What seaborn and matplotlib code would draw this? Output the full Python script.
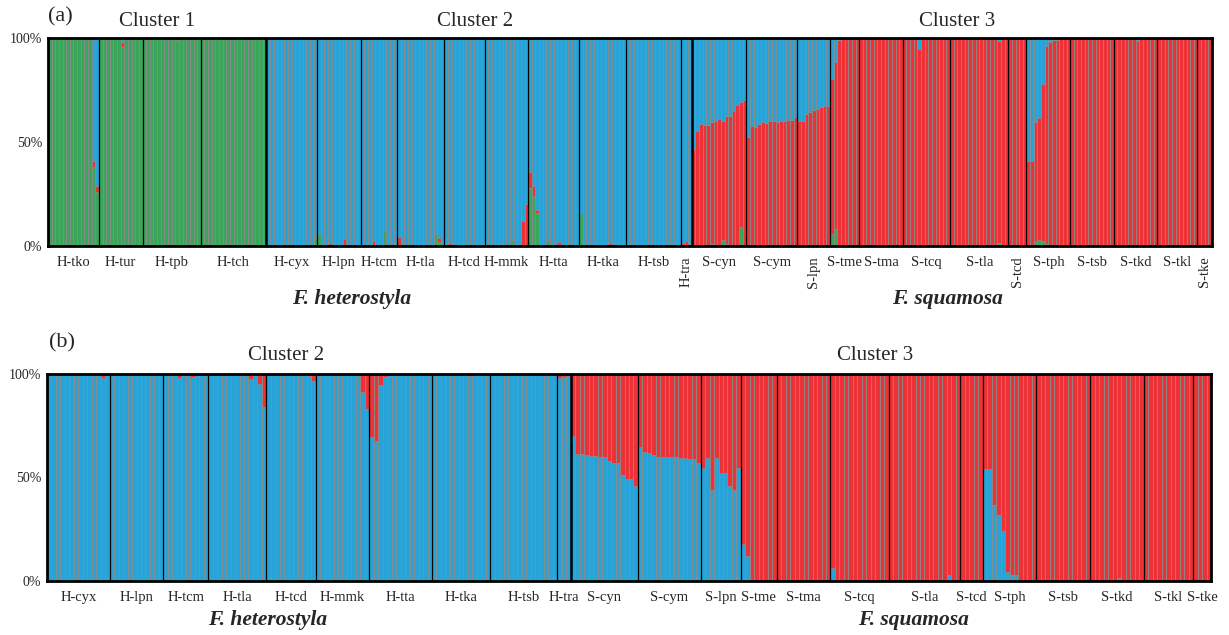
import numpy as np
import pandas as pd
import seaborn as sns
import matplotlib.pyplot as plt

pops_a = ['H-tko', 'H-tur', 'H-tpb', 'H-tch', 'H-cyx', 'H-lpn', 'H-tcm', 'H-tla', 'H-tcd',
          'H-mmk', 'H-tta', 'H-tka', 'H-tsb', 'H-tra', 'S-cyn', 'S-cym', 'S-lpn', 'S-tme',
          'S-tma', 'S-tcq', 'S-tla', 'S-tcd', 'S-tph', 'S-tsb', 'S-tkd', 'S-tkl', 'S-tke']
pops_b = pops_a[4:]
rotated_a = ['H-tra', 'S-lpn', 'S-tcd', 'S-tke']

# (a) K=3: share of the green cluster, one value per individual, by population
green_a = [
    [1, 1, 1, 1, 1, 0.995, 1, 1, 1, 1, 1, 1, 0.38, 0.26],                     # H-tko
    [1, 1, 1, 1, 1, 1, 0.955, 1, 0.995, 0.995, 0.995, 0.995],                  # H-tur
    [1, 0.995, 1, 0.995, 1, 1, 0.995, 0.995, 1, 0.99, 1, 0.995, 0.995, 1, 1, 1],  # H-tpb
    [1, 1, 1, 1, 1, 1, 1, 1, 1, 1, 1, 1, 1, 1, 1, 1, 1, 0.99],                 # H-tch
    [0, 0, 0, 0, 0, 0, 0, 0, 0, 0, 0, 0, 0, 0.04],                             # H-cyx
    [0.06, 0, 0, 0, 0, 0, 0.005, 0.005, 0, 0.005, 0, 0],                       # H-lpn
    [0, 0, 0, 0, 0, 0, 0.07, 0, 0, 0],                                         # H-tcm
    [0, 0, 0, 0, 0, 0, 0, 0, 0, 0, 0.06, 0.02, 0.015],                         # H-tla
    [0, 0.005, 0.005, 0, 0, 0, 0, 0.005, 0, 0.005, 0],                         # H-tcd
    [0, 0, 0, 0, 0, 0, 0, 0.03, 0, 0, 0, 0],                                   # H-mmk
    [0.28, 0.24, 0.16, 0, 0, 0.03, 0, 0, 0, 0, 0, 0, 0, 0],                    # H-tta
    [0.16, 0, 0, 0, 0, 0, 0, 0, 0, 0, 0, 0, 0],                                # H-tka
    [0, 0, 0, 0, 0, 0, 0, 0, 0, 0, 0, 0, 0, 0, 0],                             # H-tsb
    [0.005, 0.005, 0],                                                         # H-tra
    [0.005, 0, 0, 0, 0, 0.01, 0, 0, 0.03, 0.01, 0, 0, 0, 0.09, 0],            # S-cyn
    [0.005, 0, 0, 0, 0.005, 0, 0, 0, 0, 0, 0, 0, 0, 0],                        # S-cym
    [0, 0, 0, 0, 0, 0, 0, 0, 0],                                               # S-lpn
    [0.06, 0.08, 0.005, 0, 0, 0, 0, 0],                                        # S-tme
    [0, 0, 0, 0, 0, 0, 0, 0, 0, 0, 0, 0],                                      # S-tma
    [0.005, 0, 0, 0, 0, 0, 0, 0, 0, 0, 0, 0, 0],                               # S-tcq
    [0, 0, 0, 0, 0, 0, 0, 0, 0, 0, 0, 0, 0, 0.015, 0, 0],                      # S-tla
    [0, 0, 0, 0, 0],                                                           # S-tcd
    [0.005, 0.005, 0.025, 0.03, 0.025, 0.01, 0, 0, 0.005, 0.005, 0.005, 0.005],  # S-tph
    [0.005, 0, 0, 0, 0, 0, 0, 0, 0, 0, 0, 0],                                  # S-tsb
    [0, 0, 0, 0, 0, 0, 0, 0, 0, 0, 0, 0],                                      # S-tkd
    [0, 0, 0, 0, 0, 0, 0, 0, 0, 0, 0],                                         # S-tkl
    [0, 0, 0, 0],                                                              # S-tke
]

# (a) K=3: share of the red cluster (blue is what is left)
red_a = [
    [0, 0, 0, 0, 0, 0, 0, 0, 0, 0, 0, 0, 0.03, 0.03],
    [0, 0, 0, 0, 0, 0, 0.025, 0, 0.005, 0.005, 0.005, 0.005],
    [0, 0.005, 0, 0, 0, 0, 0.005, 0.005, 0, 0.01, 0, 0.005, 0, 0, 0, 0],
    [0, 0, 0, 0, 0, 0, 0, 0, 0, 0, 0, 0, 0, 0, 0, 0, 0, 0.01],
    [0, 0, 0, 0, 0.01, 0, 0, 0.005, 0, 0, 0, 0, 0, 0],
    [0, 0, 0, 0.015, 0, 0, 0, 0.03, 0, 0, 0, 0],
    [0, 0, 0.005, 0.025, 0, 0, 0, 0, 0, 0],
    [0.045, 0.01, 0, 0, 0, 0, 0, 0, 0, 0, 0, 0.02, 0],
    [0, 0.01, 0, 0, 0, 0, 0, 0, 0, 0, 0.01],
    [0, 0.005, 0, 0, 0.01, 0, 0, 0, 0, 0.01, 0.12, 0.2],
    [0.075, 0.047, 0.015, 0, 0, 0.005, 0, 0, 0.02, 0, 0, 0, 0.005, 0],
    [0, 0, 0, 0, 0, 0, 0, 0, 0.015, 0, 0.005, 0, 0],
    [0, 0, 0, 0, 0, 0, 0, 0, 0, 0, 0, 0, 0, 0, 0],
    [0.01, 0.02, 0.01],
    [0.462, 0.552, 0.585, 0.58, 0.58, 0.586, 0.599, 0.609, 0.569, 0.615, 0.625, 0.649, 0.678, 0.603, 0.70],
    [0.518, 0.576, 0.57, 0.586, 0.592, 0.591, 0.599, 0.60, 0.597, 0.60, 0.60, 0.605, 0.605, 0.62],
    [0.60, 0.60, 0.635, 0.645, 0.655, 0.66, 0.67, 0.675, 0.675],
    [0.743, 0.804, 0.985, 1, 1, 1, 1, 1],
    [1, 1, 1, 1, 1, 1, 1, 1, 1, 1, 1, 1],
    [0.995, 1, 1, 1, 0.945, 1, 1, 1, 1, 1, 1, 1, 1],
    [1, 1, 1, 1, 1, 1, 1, 1, 1, 1, 1, 1, 1, 0.97, 1, 1],
    [1, 1, 1, 1, 1],
    [0.403, 0.403, 0.569, 0.587, 0.755, 0.953, 0.982, 0.99, 0.985, 0.99, 0.99, 0.99],
    [0.99, 1, 1, 1, 1, 1, 1, 1, 1, 1, 1, 1],
    [1, 1, 1, 1, 1, 1, 0.985, 1, 1, 1, 1, 1],
    [1, 1, 1, 1, 1, 1, 1, 1, 1, 1, 1],
    [1, 1, 1, 1],
]

# (b) K=2: share of the blue cluster (red is what is left)
blue_b = [
    [1, 1, 0.995, 1, 0.995, 1, 1, 1, 1, 1, 1, 1, 0.982, 1],                    # H-cyx
    [1, 1, 1, 0.995, 1, 1, 1, 0.995, 1, 0.995, 1, 1],                          # H-lpn
    [1, 1, 1, 0.982, 1, 1, 0.987, 1, 1, 1],                                    # H-tcm
    [1, 1, 1, 1, 1, 1, 1, 1, 1, 0.976, 0.995, 0.952, 0.839],                   # H-tla
    [1, 1, 1, 1, 1, 1, 1, 1, 1, 0.99, 0.966],                                  # H-tcd
    [0.995, 1, 1, 0.995, 1, 1, 1, 1, 1, 0.995, 0.915, 0.83],                   # H-mmk
    [0.694, 0.674, 0.947, 0.987, 1, 1, 1, 1, 1, 1, 1, 1, 1, 1],                # H-tta
    [1, 1, 1, 1, 1, 1, 1, 1, 0.99, 1, 1, 1, 1],                                # H-tka
    [1, 1, 1, 1, 1, 1, 1, 1, 1, 1, 1, 1, 1, 1, 1],                             # H-tsb
    [0.979, 0.987, 0.99],                                                      # H-tra
    [0.70, 0.613, 0.613, 0.611, 0.603, 0.603, 0.597, 0.597, 0.581, 0.568, 0.568, 0.511, 0.495, 0.495, 0.46],  # S-cyn
    [0.645, 0.624, 0.618, 0.607, 0.600, 0.597, 0.597, 0.597, 0.597, 0.596, 0.594, 0.590, 0.587, 0.571],      # S-cym
    [0.548, 0.594, 0.44, 0.594, 0.521, 0.524, 0.461, 0.442, 0.548],            # S-lpn
    [0.18, 0.119, 0.006, 0.003, 0, 0, 0, 0],                                   # S-tme
    [0, 0.003, 0, 0, 0, 0, 0, 0, 0, 0, 0, 0],                                  # S-tma
    [0.061, 0.005, 0, 0, 0, 0, 0, 0.003, 0.003, 0.003, 0, 0, 0],               # S-tcq
    [0.003, 0, 0, 0, 0, 0, 0, 0, 0, 0, 0, 0, 0, 0.029, 0, 0],                  # S-tla
    [0, 0, 0, 0, 0],                                                           # S-tcd
    [0.539, 0.539, 0.366, 0.318, 0.24, 0.042, 0.029, 0.029, 0.003, 0.003, 0.003, 0.003],  # S-tph
    [0.004, 0, 0, 0, 0, 0, 0, 0, 0, 0, 0, 0],                                  # S-tsb
    [0, 0, 0, 0, 0, 0, 0.013, 0, 0, 0, 0, 0],                                  # S-tkd
    [0, 0, 0, 0, 0, 0, 0, 0, 0, 0, 0],                                         # S-tkl
    [0, 0, 0, 0],                                                              # S-tke
]

colours = {'green': '#3ba55c', 'red': '#ec3236', 'blue': '#27a3d8'}

sns.set_style('white')
plt.rcParams['font.family'] = ['Liberation Serif', 'DejaVu Serif']

W, H = 1229, 635


def long_table(shares):
    rows = []
    i = 0
    for pop_idx, pop in enumerate(shares[next(iter(shares))]):
        for j in range(len(pop)):
            left = 1.0
            for comp, lists in shares.items():
                q = lists[pop_idx][j]
                rows.append((i, comp, q))
                left -= q
            rows.append((i, 'rest', max(left, 0)))
            i += 1
    return pd.DataFrame(rows, columns=['ind', 'comp', 'q'])


def structure(ax, df, hue_order, pops, sizes, rotated, thick_after):
    sns.histplot(data=df, x='ind', weights='q', hue='comp', hue_order=hue_order,
                 palette=[colours[c] for c in hue_order], multiple='stack',
                 discrete=True, shrink=1, edgecolor='#8a8a8a', linewidth=0.55,
                 alpha=1, legend=False, ax=ax)
    n = sum(sizes)
    edges = np.cumsum(sizes)
    for k, e in enumerate(edges[:-1]):
        ax.axvline(e - 0.5, color='black', lw=1.8 if pops[k] in thick_after else 0.9)
    ax.set_xlim(-0.5, n - 0.5)
    ax.set_ylim(0, 1)
    centres = edges - np.array(sizes) / 2 - 0.5
    ax.set_xticks(centres)
    ax.set_xticklabels(pops, fontsize=10.5)
    for lab in ax.get_xticklabels():
        if lab.get_text() in rotated:
            lab.set_rotation(90)
            lab.set_va('top')
    ax.set_yticks([0, 0.5, 1])
    ax.set_yticklabels(['0%', '50%', '100%'], fontsize=10)
    ax.tick_params(axis='x', length=0, pad=7.5)
    ax.tick_params(axis='y', length=0, pad=4)
    ax.set_xlabel('')
    ax.set_ylabel('')
    for s in ax.spines.values():
        s.set_visible(True)
        s.set_linewidth(2)
        s.set_color('black')
        s.set_zorder(5)


fig = plt.figure(figsize=(W / 100, H / 100), dpi=100)
ax_a = fig.add_axes([48 / W, 1 - 246 / H, 1164 / W, 208 / H])
ax_b = fig.add_axes([47 / W, 1 - 581 / H, 1164 / W, 207 / H])

# bottom to top: green, red, blue (seaborn stacks the last hue level at the bottom)
df_a = long_table({'green': green_a, 'red': red_a}).replace({'comp': {'rest': 'blue'}})
structure(ax_a, df_a, ['blue', 'red', 'green'], pops_a, [len(p) for p in green_a],
          rotated_a, ['H-tch', 'H-tra'])

df_b = long_table({'blue': blue_b}).replace({'comp': {'rest': 'red'}})
structure(ax_b, df_b, ['red', 'blue'], pops_b, [len(p) for p in blue_b], [], ['H-tra'])


def ftext(x, y, s, **kw):
    fig.text(x / W, 1 - y / H, s, ha='center', va='center', **kw)


ftext(60, 17, '(a)', fontsize=16)
ftext(157, 22, 'Cluster 1', fontsize=15)
ftext(475, 22, 'Cluster 2', fontsize=15)
ftext(957, 22, 'Cluster 3', fontsize=15)
ftext(352, 299, 'F. heterostyla', fontsize=15.5, fontweight='bold', fontstyle='italic')
ftext(947, 299, 'F. squamosa', fontsize=15.5, fontweight='bold', fontstyle='italic')

ftext(62, 343, '(b)', fontsize=16)
ftext(286, 355, 'Cluster 2', fontsize=15)
ftext(875, 355, 'Cluster 3', fontsize=15)
ftext(268, 620, 'F. heterostyla', fontsize=15.5, fontweight='bold', fontstyle='italic')
ftext(913, 620, 'F. squamosa', fontsize=15.5, fontweight='bold', fontstyle='italic')

fig.savefig('out.png', dpi=100)
